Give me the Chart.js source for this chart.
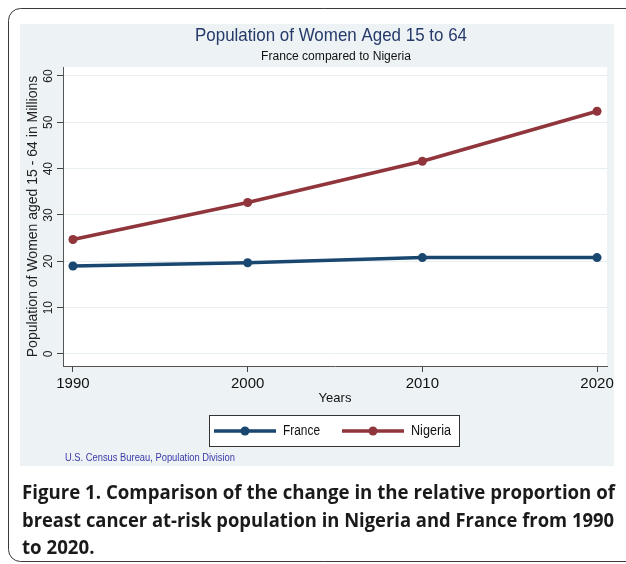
<!DOCTYPE html>
<html>
<head>
<meta charset="utf-8">
<script src="https://cdn.jsdelivr.net/npm/chart.js@4.4.1/dist/chart.umd.min.js"></script>
<style>
  html, body { margin: 0; padding: 0; background: #ffffff; }
  canvas { display: block; }
</style>
</head>
<body>
<canvas id="chart" width="626" height="564"></canvas>
<script>
// Data
const years = [1990, 2000, 2010, 2020];
const france = [19.0, 19.7, 20.8, 20.8];
const nigeria = [24.7, 32.7, 41.6, 52.4];
const yTickValues = [0, 10, 20, 30, 40, 50, 60];
const seriesNames = ['France', 'Nigeria'];

const titleText = 'Population of Women Aged 15 to 64';
const subtitleText = 'France compared to Nigeria';
const sourceText = 'U.S. Census Bureau, Population Division';
const captionLines = [
    'Figure 1. Comparison of the change in the relative proportion of',
    'breast cancer at-risk population in Nigeria and France from 1990',
    'to 2020.'
];

const navy = '#1a476f';
const maroon = '#90353b';
const regionBg = '#edf2f5';
const axisFont = 'Liberation Sans, Arial, sans-serif';

function toPoints(values) {
    return years.map((yr, i) => ({ x: yr, y: values[i] }));
}

// draw text squeezed horizontally by a given ratio (the original looks condensed)
function squeezedText(ctx, text, x, y, ratio) {
    ctx.save();
    ctx.translate(x, y);
    ctx.scale(ratio, 1);
    ctx.fillText(text, 0, 0);
    ctx.restore();
}

// Background, frame and graph region
const backdrop = {
    id: 'backdrop',
    beforeDraw(chart) {
        const ctx = chart.ctx;
        const a = chart.chartArea;
        ctx.save();
        ctx.fillStyle = '#ffffff';
        ctx.fillRect(0, 0, chart.width, chart.height);

        // rounded outer frame
        ctx.strokeStyle = '#3a3a3a';
        ctx.lineWidth = 1;
        ctx.beginPath();
        ctx.roundRect(8.5, 8.5, 650, 553, 12);
        ctx.stroke();

        // graph region
        ctx.fillStyle = regionBg;
        ctx.fillRect(20, 24, 594, 442);

        // plot region
        ctx.fillStyle = '#ffffff';
        ctx.fillRect(a.left, a.top, a.right - a.left, a.bottom - a.top);
        ctx.restore();
    }
};

// Titles, legend box, source note and caption
const decorations = {
    id: 'decorations',
    afterDraw(chart) {
        const ctx = chart.ctx;
        ctx.save();
        ctx.textBaseline = 'middle';

        ctx.fillStyle = '#263a6a';
        ctx.textAlign = 'center';
        ctx.font = '19px ' + axisFont;
        ctx.fillText(titleText, 331, 36, 272);

        ctx.fillStyle = '#111111';
        ctx.font = '12.5px ' + axisFont;
        ctx.fillText(subtitleText, 336, 57, 150);

        // legend
        const lx = 209, ly = 415, lw = 250, lh = 31;
        ctx.fillStyle = '#ffffff';
        ctx.fillRect(lx, ly, lw, lh);
        ctx.strokeStyle = '#333333';
        ctx.lineWidth = 1;
        ctx.strokeRect(lx + 0.5, ly + 0.5, lw, lh);

        const cy = ly + lh / 2 + 0.5;
        const items = chart.data.datasets.map(ds => ({ label: ds.label, color: ds.borderColor }));
        const starts = [214, 342];
        const textWidths = [37, 40];
        items.forEach((item, i) => {
            const x0 = starts[i];
            ctx.strokeStyle = item.color;
            ctx.lineWidth = 3.5;
            ctx.beginPath();
            ctx.moveTo(x0, cy);
            ctx.lineTo(x0 + 62, cy);
            ctx.stroke();
            ctx.fillStyle = item.color;
            ctx.beginPath();
            ctx.arc(x0 + 31, cy, 4.5, 0, Math.PI * 2);
            ctx.fill();
            ctx.fillStyle = '#111111';
            ctx.textAlign = 'left';
            ctx.font = '14px ' + axisFont;
            ctx.fillText(item.label, x0 + 69, cy, textWidths[i]);
        });

        // source note
        ctx.fillStyle = '#3a3aa8';
        ctx.font = '10px ' + axisFont;
        ctx.textAlign = 'left';
        ctx.fillText(sourceText, 65, 458, 170);

        // caption, condensed so the full lines span the frame
        ctx.fillStyle = '#1a1a1a';
        ctx.font = 'bold 20px "Open Sans", "Noto Sans", sans-serif';
        ctx.textBaseline = 'alphabetic';
        const ratio1 = 593 / ctx.measureText(captionLines[0]).width;
        const ratio2 = 592 / ctx.measureText(captionLines[1]).width;
        squeezedText(ctx, captionLines[0], 22, 499, ratio1);
        squeezedText(ctx, captionLines[1], 22, 527, ratio2);
        squeezedText(ctx, captionLines[2], 22, 554, ratio1);
        ctx.restore();
    }
};

new Chart(document.getElementById('chart'), {
    type: 'line',
    data: {
        datasets: [
            {
                label: seriesNames[0],
                data: toPoints(france),
                borderColor: navy,
                backgroundColor: navy,
                borderWidth: 3.5,
                pointRadius: 4.5,
                pointBorderWidth: 0,
                pointBackgroundColor: navy,
                tension: 0
            },
            {
                label: seriesNames[1],
                data: toPoints(nigeria),
                borderColor: maroon,
                backgroundColor: maroon,
                borderWidth: 3.5,
                pointRadius: 4.5,
                pointBorderWidth: 0,
                pointBackgroundColor: maroon,
                tension: 0
            }
        ]
    },
    options: {
        responsive: false,
        animation: false,
        events: [],
        layout: {
            padding: { left: 22, right: 19, top: 67, bottom: 158 }
        },
        plugins: {
            legend: { display: false },
            tooltip: { enabled: false },
            title: { display: false }
        },
        scales: {
            x: {
                type: 'linear',
                min: 1989.43,
                max: 2020.57,
                afterBuildTicks(scale) {
                    scale.ticks = years.map(v => ({ value: v }));
                },
                afterFit(scale) {
                    scale.height = 40;
                },
                grid: {
                    drawOnChartArea: false,
                    drawTicks: true,
                    tickLength: 6,
                    tickColor: '#444444'
                },
                border: { color: '#555555', width: 1 },
                ticks: {
                    padding: 3,
                    color: '#111111',
                    font: { family: axisFont, size: 15 },
                    maxRotation: 0,
                    callback: v => String(v)
                },
                title: {
                    display: true,
                    text: 'Years',
                    color: '#111111',
                    font: { family: axisFont, size: 13 },
                    padding: { top: 0, bottom: 0 }
                }
            },
            y: {
                min: -2.59,
                max: 61.94,
                afterBuildTicks(scale) {
                    scale.ticks = yTickValues.map(v => ({ value: v }));
                },
                afterFit(scale) {
                    scale.width = 41;
                },
                grid: {
                    color: '#e8eff3',
                    lineWidth: 1,
                    drawTicks: true,
                    tickLength: 6,
                    tickColor: '#444444'
                },
                border: { color: '#555555', width: 1 },
                ticks: {
                    padding: 2,
                    color: '#222222',
                    minRotation: 90,
                    maxRotation: 90,
                    crossAlign: 'center',
                    font: { family: axisFont, size: 12 }
                },
                title: {
                    display: true,
                    text: 'Population of Women aged 15 - 64 in Millions',
                    color: '#222222',
                    font: { family: axisFont, size: 14 },
                    padding: { top: 3, bottom: 0 }
                }
            }
        }
    },
    plugins: [backdrop, decorations]
});
</script>
</body>
</html>
